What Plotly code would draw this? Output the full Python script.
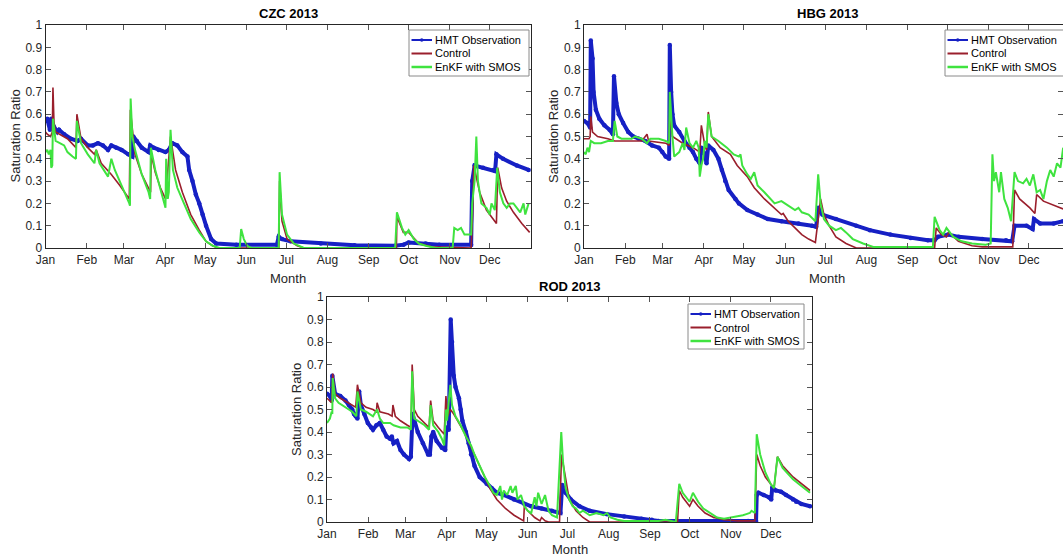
import plotly.graph_objects as go
import pandas as pd

# ---------------- data (day of year 2013, saturation ratio) ----------------
months = ["Jan", "Feb", "Mar", "Apr", "May", "Jun", "Jul", "Aug", "Sep", "Oct", "Nov", "Dec"]
month_starts = ["2013-%02d-01" % m for m in range(1, 13)]
y_ticks = [0, 0.1, 0.2, 0.3, 0.4, 0.5, 0.6, 0.7, 0.8, 0.9, 1]
y_tick_text = ["0", "0.1", "0.2", "0.3", "0.4", "0.5", "0.6", "0.7", "0.8", "0.9", "1"]
series_names = ["HMT Observation", "Control", "EnKF with SMOS"]
site_titles = ["CZC 2013", "HBG 2013", "ROD 2013"]

# CZC
czc_obs_day = [0, 1.3, 3.3, 4.3, 5.8, 8.9, 10.2, 14, 19, 24.1, 26.7, 31.8, 35.6, 39.4, 43.2, 47, 49.5, 53.3, 57.2,
               62.2, 65.3, 66, 68.6, 72.4, 77.5, 78.7, 81.3, 85.1, 90.2, 92.7, 95.3, 99.1, 102.9, 106.7, 108,
               110.5, 113, 115.6, 118.1, 120.7, 124.5, 128.3, 143.5, 174, 175.3, 177.8, 184.2, 207, 232.4,
               262.9, 269.2, 273, 285.8, 296, 320, 320.8, 322.6, 329, 336.6, 338, 339, 344, 354.3, 363.2]
czc_obs_val = [0.57, 0.58, 0.53, 0.58, 0.55, 0.52, 0.53, 0.51, 0.49, 0.48, 0.49, 0.46, 0.46, 0.47, 0.46, 0.44,
               0.46, 0.45, 0.44, 0.42, 0.41, 0.50, 0.48, 0.45, 0.43, 0.46, 0.45, 0.44, 0.43, 0.44, 0.47, 0.46,
               0.43, 0.41, 0.35, 0.30, 0.24, 0.20, 0.15, 0.10, 0.04, 0.02, 0.015, 0.015, 0.05, 0.04, 0.03,
               0.02, 0.012, 0.01, 0.015, 0.025, 0.02, 0.015, 0.015, 0.30, 0.37, 0.36, 0.35, 0.345, 0.42,
               0.40, 0.37, 0.35]
czc_ctl_day = [0, 1.3, 3.8, 5.1, 5.6, 6.4, 7.6, 16.5, 22.9, 23.6, 26.7, 31.8, 36.8, 38.1, 41.9, 49.5, 55.9, 63,
               63.8, 67.3, 72.4, 77.5, 79, 79.5, 82.5, 86.4, 90.2, 94, 95.3, 97.8, 102.9, 109.2, 115.6, 120.7,
               125.7, 129.5, 175.5, 176, 177.8, 181.6, 189.2, 194.3, 263.8, 264.2, 269, 273, 280.7, 290.5,
               320, 321.1, 322, 326.4, 331.5, 336.6, 339, 340, 342.9, 346.7, 351.8, 358.1, 364]
czc_ctl_val = [0.52, 0.51, 0.50, 0.52, 0.72, 0.56, 0.52, 0.49, 0.45, 0.60, 0.49, 0.45, 0.42, 0.44, 0.38, 0.33,
               0.28, 0.22, 0.62, 0.42, 0.33, 0.27, 0.25, 0.42, 0.34, 0.27, 0.22, 0.50, 0.45, 0.35, 0.25, 0.15,
               0.08, 0.03, 0.01, 0.0, 0.0, 0.30, 0.12, 0.04, 0.01, 0.0, 0.0, 0.14, 0.07, 0.07, 0.02, 0.005,
               0.0, 0.15, 0.37, 0.25, 0.17, 0.13, 0.11, 0.36, 0.27, 0.21, 0.16, 0.11, 0.07]
czc_enkf_day = [0, 1.3, 2.5, 3.8, 4.3, 5.1, 5.6, 7.6, 14, 16.5, 20.3, 22.9, 23.6, 26.7, 31.8, 35.6, 36.8, 38.1,
                40.6, 47, 49.5, 52.1, 55.9, 59.7, 63, 63.5, 64, 65.3, 67.3, 72.4, 77.5, 78.7, 79.2, 82.5, 86.4,
                88.9, 90.2, 90.7, 91.9, 92.7, 94, 95.8, 99.1, 104.1, 109.2, 115.6, 120.7, 125.7, 130.8, 146,
                147.1, 149.1, 151.6, 154.9, 175.3, 176, 177.8, 181.6, 186.7, 194.3, 262.9, 264.2, 268, 270.5,
                273, 276.9, 280.7, 285.8, 293.4, 306.1, 307.3, 309.9, 312.4, 315, 320, 320.8, 322.6, 323.9,
                325.1, 327.7, 331.5, 334, 335.3, 337.8, 339.6, 341.6, 344.2, 346.7, 349.3, 351.8, 354.3,
                356.9, 359.4, 360.7, 363.2]
czc_enkf_val = [0.43, 0.44, 0.42, 0.44, 0.36, 0.37, 0.58, 0.48, 0.46, 0.43, 0.41, 0.40, 0.57, 0.47, 0.42, 0.39,
                0.38, 0.44, 0.38, 0.32, 0.40, 0.35, 0.30, 0.25, 0.20, 0.19, 0.67, 0.50, 0.44, 0.33, 0.25, 0.22,
                0.45, 0.35, 0.26, 0.20, 0.18, 0.40, 0.22, 0.25, 0.53, 0.35, 0.27, 0.20, 0.13, 0.07, 0.03, 0.01,
                0.0, 0.0, 0.085, 0.04, 0.01, 0.0, 0.0, 0.34, 0.15, 0.06, 0.02, 0.0, 0.0, 0.16, 0.09, 0.06,
                0.08, 0.04, 0.02, 0.01, 0.0, 0.0, 0.09, 0.08, 0.09, 0.06, 0.06, 0.20, 0.30, 0.50, 0.30, 0.20,
                0.18, 0.15, 0.20, 0.17, 0.36, 0.25, 0.20, 0.18, 0.20, 0.20, 0.18, 0.16, 0.20, 0.15, 0.20]

# HBG
hbg_obs_day = [0, 2.6, 4.6, 5.1, 6.4, 7.2, 8.9, 11.5, 15.3, 19.2, 21.7, 22.5, 24.3, 26.1, 29.4, 33.2, 37, 40.9,
               46, 51.1, 56.2, 58.8, 61.3, 63.9, 64.4, 65.4, 66.4, 67.7, 71.5, 75.4, 79.2, 81.8, 84.3, 86.9,
               88.1, 90.7, 92, 93.3, 97.1, 100.9, 103.5, 106, 108.6, 113.7, 116.3, 122.6, 130.3, 138, 148.2,
               161, 171.2, 174.3, 175.8, 178.9, 189.1, 204.4, 214.6, 230, 245.3, 258.1, 263.2, 265.7, 273.4,
               281.1, 298.9, 316.8, 321.4, 323.2, 332.2, 336.8, 337.8, 342.4, 352.6, 359.7]
hbg_obs_val = [0.57, 0.56, 0.54, 0.93, 0.85, 0.70, 0.62, 0.58, 0.55, 0.53, 0.51, 0.77, 0.65, 0.60, 0.56, 0.52,
               0.50, 0.49, 0.48, 0.46, 0.45, 0.43, 0.41, 0.40, 0.91, 0.70, 0.60, 0.55, 0.52, 0.48, 0.45, 0.43,
               0.40, 0.38, 0.45, 0.42, 0.38, 0.46, 0.44, 0.40, 0.35, 0.30, 0.26, 0.22, 0.20, 0.17, 0.15, 0.13,
               0.12, 0.11, 0.10, 0.095, 0.18, 0.15, 0.13, 0.10, 0.08, 0.06, 0.045, 0.035, 0.035, 0.05, 0.06,
               0.05, 0.04, 0.035, 0.03, 0.10, 0.10, 0.085, 0.13, 0.11, 0.11, 0.12]
hbg_ctl_day = [0, 3.8, 4.6, 5.1, 6.4, 10.2, 17.9, 23, 43.4, 47.3, 48.5, 61.3, 63.9, 64.4, 66.4, 74.1, 81.8,
               86.9, 88.1, 90.7, 92, 93.3, 95.8, 102.2, 109.9, 115, 122.6, 127.8, 135.4, 143.1, 148.2, 149.5,
               153.3, 158.4, 163.5, 168.6, 173.7, 177.6, 180.1, 184, 189.1, 196.7, 204.4, 263.2, 264.4,
               268.3, 272.1, 273.9, 281.1, 291.3, 298.9, 321.9, 323.2, 327, 334.7, 338.5, 339.8, 344.9,
               352.6, 359.7]
hbg_ctl_val = [0.49, 0.49, 0.50, 0.59, 0.52, 0.50, 0.49, 0.48, 0.48, 0.51, 0.48, 0.47, 0.46, 0.60, 0.50, 0.47,
               0.45, 0.43, 0.55, 0.46, 0.44, 0.61, 0.50, 0.45, 0.42, 0.37, 0.32, 0.27, 0.22, 0.18, 0.15, 0.155,
               0.12, 0.09, 0.06, 0.04, 0.025, 0.22, 0.15, 0.10, 0.05, 0.02, 0.0, 0.0, 0.09, 0.06, 0.05, 0.07,
               0.03, 0.01, 0.005, 0.005, 0.26, 0.22, 0.18, 0.155, 0.24, 0.21, 0.19, 0.175]
hbg_enkf_day = [0, 1.3, 2.6, 3.8, 5.1, 7.7, 12.8, 17.9, 21.7, 23, 25, 28.1, 35.8, 38.3, 43.4, 47.3, 49.8, 56.2,
                61.3, 63.9, 64.4, 65.2, 66.4, 67.7, 71.5, 74.1, 75.4, 76.7, 79.2, 81.8, 84.3, 86.1, 86.9, 88.1,
                89.4, 90.7, 92, 93.3, 95.8, 100.9, 107.3, 112.4, 116.3, 117.5, 118.8, 122.6, 125.2, 127.8,
                130.3, 135.4, 140.5, 143.1, 148.2, 153.3, 158.4, 161, 163.5, 168.6, 172.5, 173.7, 175.8, 177.6,
                180.1, 184, 189.1, 192.9, 196.7, 201.8, 209.5, 217.2, 261.9, 263.2, 267, 269.6, 272.1, 277.2,
                283.6, 291.3, 301.5, 305.3, 306.6, 307.8, 309.2, 311.7, 313, 315.5, 318.1, 320.6, 323.2,
                325.8, 329.6, 332.2, 334.7, 337.3, 339.8, 342.4, 344.9, 347.5, 350, 352.6, 355.1, 357.7, 359.7]
hbg_enkf_val = [0.43, 0.42, 0.45, 0.43, 0.48, 0.47, 0.47, 0.48, 0.48, 0.57, 0.50, 0.49, 0.49, 0.50, 0.49, 0.47,
                0.49, 0.49, 0.48, 0.47, 0.70, 0.60, 0.50, 0.41, 0.43, 0.47, 0.44, 0.54, 0.47, 0.45, 0.48, 0.45,
                0.32, 0.37, 0.40, 0.48, 0.45, 0.60, 0.50, 0.48, 0.45, 0.42, 0.41, 0.42, 0.37, 0.33, 0.31, 0.34,
                0.28, 0.25, 0.22, 0.20, 0.21, 0.19, 0.17, 0.18, 0.16, 0.15, 0.13, 0.12, 0.33, 0.20, 0.13, 0.10,
                0.08, 0.09, 0.07, 0.04, 0.02, 0.005, 0.005, 0.14, 0.08, 0.06, 0.09, 0.05, 0.03, 0.02, 0.015,
                0.02, 0.42, 0.30, 0.34, 0.25, 0.34, 0.22, 0.18, 0.12, 0.34, 0.30, 0.29, 0.31, 0.28, 0.33, 0.25,
                0.26, 0.22, 0.30, 0.35, 0.32, 0.38, 0.36, 0.45]

# ROD
rod_obs_day = [0, 2.2, 3.5, 4, 6.1, 10, 13.9, 16.4, 19, 20.3, 21.6, 22.9, 24.2, 25.5, 28.1, 30.7, 33.3, 34.6,
               37.2, 39.8, 42.3, 44.9, 47.5, 48.8, 50.1, 52.7, 55.3, 57.9, 61.8, 63.1, 64.4, 65.7, 68.3, 72.2,
               76.1, 77.4, 78.6, 79.9, 82.5, 86.4, 89, 89.8, 91.6, 93.1, 94.1, 95.4, 96.7, 99.3, 100.6, 101.9,
               104.5, 106.6, 108.4, 111, 114.9, 120.1, 124, 127.8, 133, 140.8, 148.5, 153.7, 161.5, 169.3,
               175.7, 177, 179.6, 183.5, 190, 197.7, 210.7, 223.6, 236.6, 244.4, 249.5, 291, 316.9, 322.9,
               323.4, 324.7, 328.6, 332.5, 334.3, 335.1, 337.7, 341.6, 345.5, 350.7, 353.1, 357, 363.5]
rod_obs_val = [0.57, 0.56, 0.54, 0.65, 0.57, 0.56, 0.54, 0.52, 0.50, 0.48, 0.47, 0.46, 0.58, 0.52, 0.48, 0.44,
               0.42, 0.41, 0.43, 0.44, 0.41, 0.38, 0.37, 0.38, 0.35, 0.36, 0.32, 0.30, 0.28, 0.29, 0.48, 0.45,
               0.40, 0.35, 0.30, 0.30, 0.38, 0.40, 0.36, 0.33, 0.32, 0.42, 0.41, 0.90, 0.80, 0.65, 0.60, 0.55,
               0.50, 0.45, 0.40, 0.35, 0.30, 0.25, 0.20, 0.17, 0.15, 0.13, 0.12, 0.10, 0.08, 0.07, 0.06, 0.05,
               0.04, 0.165, 0.13, 0.10, 0.07, 0.05, 0.035, 0.025, 0.015, 0.01, 0.005, 0.005, 0.005, 0.005,
               0.12, 0.13, 0.12, 0.11, 0.10, 0.155, 0.14, 0.135, 0.12, 0.10, 0.09, 0.08, 0.07]
rod_ctl_day = [0, 3.5, 4.3, 6.1, 10, 16.4, 21.6, 22.9, 25.5, 29.4, 34.6, 37.2, 37.7, 39.8, 46.2, 49, 49.6, 51.4,
               55.3, 60.5, 63.3, 64.1, 65.7, 68.3, 73.4, 76.8, 78, 79.9, 83.8, 86.4, 88.2, 89.5, 90.8, 92.8,
               95.4, 99.3, 103.2, 107.1, 111, 114.9, 118.8, 122.6, 127.8, 134.3, 140.8, 146, 148, 148.5, 151.1,
               156.3, 160.3, 161.5, 164.1, 166.7, 175, 176.5, 179.6, 182.3, 187.4, 192.6, 197.7, 263.8, 265.1,
               267.7, 271.6, 272.9, 275.4, 279.3, 284.5, 291, 298.8, 309.1, 322, 323.4, 326, 329.9, 333.8,
               336.4, 339, 342.9, 350.7, 357, 360.9, 363.5]
rod_ctl_val = [0.55, 0.53, 0.66, 0.57, 0.55, 0.53, 0.51, 0.61, 0.53, 0.51, 0.50, 0.49, 0.53, 0.49, 0.48, 0.47,
               0.52, 0.47, 0.45, 0.43, 0.42, 0.70, 0.50, 0.47, 0.44, 0.42, 0.54, 0.45, 0.42, 0.40, 0.39, 0.56,
               0.47, 0.50, 0.48, 0.44, 0.40, 0.35, 0.30, 0.25, 0.20, 0.15, 0.10, 0.06, 0.03, 0.01, 0.005, 0.07,
               0.05, 0.02, 0.005, 0.02, 0.005, 0.0, 0.0, 0.30, 0.20, 0.10, 0.05, 0.02, 0.0, 0.0, 0.14, 0.11,
               0.08, 0.07, 0.10, 0.07, 0.04, 0.02, 0.01, 0.005, 0.005, 0.30, 0.25, 0.20, 0.17, 0.15, 0.29,
               0.25, 0.20, 0.17, 0.15, 0.14]
rod_enkf_day = [0, 2.2, 3.5, 4, 4.3, 6.1, 8.7, 13.9, 19, 22.1, 22.9, 25.5, 29.4, 34.6, 37.7, 39.8, 42.3, 47.5,
                50.1, 55.3, 60.5, 63.1, 64.1, 65.7, 68.3, 73.4, 76.8, 78, 79.9, 83.8, 86.4, 88.2, 89.5, 90.3,
                92.8, 94.1, 96.7, 100.6, 104.5, 108.4, 111, 114.9, 118.8, 122.6, 125.2, 127.8, 130.4, 131.7,
                133, 135.6, 138.2, 139.5, 142.1, 143.4, 146, 148.5, 151.1, 153.7, 156.3, 157.6, 158.9, 161.5,
                164.1, 166.7, 169.3, 173.1, 176.3, 177.6, 179.6, 182.3, 184.9, 187.4, 190, 192.6, 197.7, 202.9,
                208.1, 210.7, 213.3, 218.5, 223.6, 249.5, 254.7, 262.5, 265.1, 267.7, 271.6, 272.9, 275.4,
                279.3, 283.2, 288.4, 293.6, 298.8, 304, 309.1, 313, 315.6, 318.2, 319.5, 322, 323.4, 326,
                329.9, 333.8, 336.4, 339, 342.9, 350.7, 357, 360.9, 363.5]
rod_enkf_val = [0.44, 0.46, 0.49, 0.48, 0.64, 0.55, 0.53, 0.51, 0.49, 0.47, 0.58, 0.50, 0.49, 0.47, 0.50, 0.46,
                0.44, 0.44, 0.43, 0.42, 0.42, 0.41, 0.67, 0.46, 0.45, 0.43, 0.41, 0.52, 0.43, 0.40, 0.37, 0.34,
                0.50, 0.45, 0.61, 0.52, 0.47, 0.43, 0.38, 0.34, 0.30, 0.25, 0.20, 0.16, 0.13, 0.12, 0.16, 0.10,
                0.14, 0.12, 0.16, 0.13, 0.16, 0.10, 0.12, 0.07, 0.05, 0.04, 0.11, 0.07, 0.13, 0.08, 0.12, 0.05,
                0.03, 0.02, 0.40, 0.27, 0.15, 0.10, 0.07, 0.06, 0.04, 0.05, 0.03, 0.04, 0.03, 0.04, 0.02, 0.01,
                0.005, 0.005, 0.01, 0.0, 0.17, 0.13, 0.10, 0.09, 0.13, 0.09, 0.06, 0.04, 0.02, 0.015, 0.02,
                0.025, 0.03, 0.035, 0.04, 0.05, 0.04, 0.39, 0.30, 0.22, 0.17, 0.15, 0.29, 0.24, 0.19, 0.16,
                0.14, 0.13]

# ---------------- styling ----------------
W, H = 1063, 556
FONT = "Liberation Sans, Arial, Helvetica, sans-serif"
TXT = "#262626"
C_OBS, C_CTL, C_ENKF = "#1620c4", "#9a1f2c", "#3fe33f"
BASE = pd.Timestamp("2013-01-01")


def to_dates(days):
    return [BASE + pd.Timedelta(days=float(d)) for d in days]


def px(x):
    return x / W


def py(y):
    return 1 - y / H


# panel geometry in pixels: left, right (x); top, bottom (y); full right edge; month-title offset
panels = [
    dict(l=45.5, r=531, t=25, b=248, fr=531, mo=30, xr=["2013-01-01", "2014-01-01"]),
    dict(l=584, r=1063, t=25, b=248, fr=1070, mo=30, xr=["2013-01-01", "2013-12-26 14:00"]),
    dict(l=327, r=812, t=297, b=522, fr=812, mo=27, xr=["2013-01-01", "2014-01-01"]),
]
data = [
    (czc_obs_day, czc_obs_val, czc_ctl_day, czc_ctl_val, czc_enkf_day, czc_enkf_val),
    (hbg_obs_day, hbg_obs_val, hbg_ctl_day, hbg_ctl_val, hbg_enkf_day, hbg_enkf_val),
    (rod_obs_day, rod_obs_val, rod_ctl_day, rod_ctl_val, rod_enkf_day, rod_enkf_val),
]
legend_boxes = [(409, 529, 30, 76), (945, 1066, 30, 76), (688, 804, 304, 349)]

fig = go.Figure()
layout = dict(
    width=W, height=H, margin=dict(l=0, r=0, t=0, b=0, autoexpand=False),
    paper_bgcolor="white", plot_bgcolor="white", showlegend=False,
    font=dict(family=FONT, size=12, color=TXT),
)
annotations, shapes = [], []

for i, (p, d) in enumerate(zip(panels, data)):
    sfx = "" if i == 0 else str(i + 1)
    xa, ya = "x" + sfx, "y" + sfx
    od, ov, cd, cv, ed, ev = d
    fig.add_trace(go.Scatter(x=to_dates(od), y=ov, mode="lines+markers", name=series_names[0],
                             line=dict(color=C_OBS, width=4), marker=dict(size=4.5, color=C_OBS),
                             xaxis=xa, yaxis=ya))
    fig.add_trace(go.Scatter(x=to_dates(cd), y=cv, mode="lines", name=series_names[1],
                             line=dict(color=C_CTL, width=1.6), xaxis=xa, yaxis=ya))
    fig.add_trace(go.Scatter(x=to_dates(ed), y=ev, mode="lines", name=series_names[2],
                             line=dict(color=C_ENKF, width=2), xaxis=xa, yaxis=ya))
    common = dict(showline=True, linecolor=TXT, linewidth=1, mirror="ticks", ticks="inside",
                  ticklen=5, tickcolor="#555555", showgrid=False, zeroline=False,
                  tickfont=dict(family=FONT, size=12, color=TXT))
    layout["xaxis" + sfx] = dict(common, domain=[px(p["l"]), min(1.0, px(p["r"]))], anchor=ya,
                                 type="date", range=p["xr"], tickvals=month_starts, ticktext=months,
                                 ticklabelstandoff=1)
    layout["yaxis" + sfx] = dict(common, domain=[py(p["b"]), py(p["t"])], anchor=xa,
                                 range=[0, 1], tickvals=y_ticks, ticktext=y_tick_text)
    cx = (p["l"] + p["fr"]) / 2
    cy = (p["t"] + p["b"]) / 2
    annotations.append(dict(text="<b>%s</b>" % site_titles[i], x=px(cx), y=py(p["t"] - 11),
                            xref="paper", yref="paper", showarrow=False, xanchor="center",
                            yanchor="middle", font=dict(size=13, color="black", family=FONT)))
    annotations.append(dict(text="Month", x=px(cx), y=py(p["b"] + p["mo"]), xref="paper", yref="paper",
                            showarrow=False, xanchor="center", yanchor="middle",
                            font=dict(size=13, color=TXT, family=FONT)))
    annotations.append(dict(text="Saturation Ratio", x=px(p["l"] - 30.5), y=py(cy), xref="paper",
                            yref="paper", showarrow=False, textangle=-90, xanchor="center",
                            yanchor="middle", font=dict(size=13, color=TXT, family=FONT)))
    # legend box
    L, R, T, B = legend_boxes[i]
    shapes.append(dict(type="rect", xref="paper", yref="paper", x0=px(L), x1=px(R), y0=py(B), y1=py(T),
                       line=dict(color="#8a8a8a", width=1), fillcolor="white", layer="above"))
    for k, (nm, col, lw) in enumerate(zip(series_names, [C_OBS, C_CTL, C_ENKF], [2, 2, 2.5])):
        ry = T + 10 + 13.5 * k
        shapes.append(dict(type="line", xref="paper", yref="paper", x0=px(L + 2.5), x1=px(L + 23),
                           y0=py(ry), y1=py(ry), line=dict(color=col, width=lw), layer="above"))
        if k == 0:
            shapes.append(dict(type="circle", xref="paper", yref="paper", x0=px(L + 11), x1=px(L + 14.5),
                               y0=py(ry + 1.75), y1=py(ry - 1.75), fillcolor=col,
                               line=dict(color=col, width=0), layer="above"))
        annotations.append(dict(text=nm, x=px(L + 24), y=py(ry), xref="paper", yref="paper",
                                showarrow=False, xanchor="left", yanchor="middle",
                                font=dict(size=11, color="black", family=FONT)))

layout["annotations"] = annotations
layout["shapes"] = shapes
fig.update_layout(**layout)
fig.write_html("out.html")
